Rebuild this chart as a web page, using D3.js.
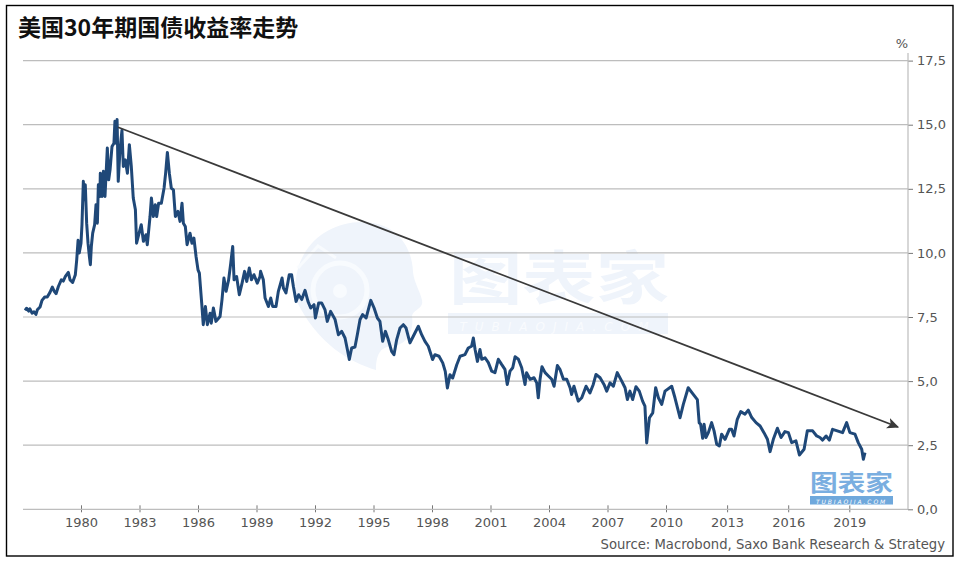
<!DOCTYPE html>
<html>
<head>
<meta charset="utf-8">
<script src="https://cdn.jsdelivr.net/npm/d3@7"></script>
<style>
  html, body { margin: 0; background: #fff; }
  svg { display: block; }
  text { font-family: "DejaVu Sans", sans-serif; }
  .cjk { font-family: "Noto Sans CJK SC", sans-serif; font-weight: 700; }
  .axis text { fill: #555; font-size: 13px; }
</style>
</head>
<body>
<svg id="chart" width="958" height="564"></svg>
<script>
// values
const yearTicks = [1980, 1983, 1986, 1989, 1992, 1995, 1998, 2001, 2004, 2007, 2010, 2013, 2016, 2019];
const yieldTicks = [0, 2.5, 5, 7.5, 10, 12.5, 15, 17.5];

const years = [
  1977.13,1977.21,1977.32,1977.38,1977.49,1977.59,1977.69,1977.76,1977.90,1978.00,1978.14,1978.27,1978.41,1978.53,1978.63,1978.72,1978.84,1978.99,1979.09,1979.20,
  1979.35,1979.44,1979.57,1979.71,1979.78,1979.85,1979.91,1980.00,1980.05,1980.12,1980.17,1980.22,1980.29,1980.36,1980.43,1980.48,1980.53,1980.60,1980.70,1980.77,
  1980.84,1980.89,1980.97,1980.99,1981.08,1981.15,1981.23,1981.35,1981.42,1981.49,1981.59,1981.69,1981.74,1981.79,1981.85,1981.91,1982.00,1982.10,1982.17,1982.27,
  1982.38,1982.48,1982.58,1982.68,1982.79,1982.85,1982.96,1983.09,1983.20,1983.33,1983.40,1983.54,1983.61,1983.71,1983.81,1983.88,1983.98,1984.12,1984.26,1984.34,
  1984.43,1984.53,1984.63,1984.74,1984.84,1984.97,1985.08,1985.18,1985.25,1985.35,1985.44,1985.59,1985.69,1985.79,1985.90,1986.00,1986.07,1986.19,1986.27,1986.38,
  1986.48,1986.62,1986.68,1986.79,1986.92,1987.13,1987.23,1987.33,1987.44,1987.57,1987.68,1987.78,1987.85,1987.98,1988.12,1988.26,1988.39,1988.50,1988.63,1988.74,
  1988.87,1989.04,1989.18,1989.21,1989.35,1989.44,1989.61,1989.73,1989.83,1990.00,1990.12,1990.31,1990.38,1990.51,1990.68,1990.80,1990.89,1991.03,1991.16,1991.32,
  1991.49,1991.64,1991.78,1991.95,1992.02,1992.19,1992.34,1992.51,1992.63,1992.80,1993.03,1993.20,1993.37,1993.54,1993.66,1993.76,1993.88,1994.05,1994.17,1994.31,
  1994.44,1994.62,1994.86,1995.03,1995.20,1995.33,1995.47,1995.61,1995.76,1995.93,1996.05,1996.19,1996.36,1996.53,1996.67,1996.87,1997.04,1997.30,1997.47,1997.64,
  1997.81,1998.03,1998.15,1998.36,1998.55,1998.68,1998.79,1998.92,1999.06,1999.27,1999.44,1999.69,1999.86,2000.03,2000.12,2000.21,2000.33,2000.46,2000.55,2000.72,
  2000.89,2001.06,2001.23,2001.40,2001.57,2001.74,2001.86,2002.00,2002.14,2002.26,2002.43,2002.60,2002.77,2002.85,2003.03,2003.23,2003.37,2003.45,2003.54,2003.64,
  2003.80,2003.97,2004.14,2004.26,2004.43,2004.56,2004.74,2004.91,2005.08,2005.16,2005.28,2005.50,2005.68,2005.90,2006.10,2006.27,2006.41,2006.62,2006.82,2006.96,
  2007.13,2007.30,2007.50,2007.73,2007.90,2008.02,2008.15,2008.29,2008.46,2008.63,2008.80,2008.92,2009.01,2009.15,2009.32,2009.47,2009.61,2009.78,2009.95,2010.28,
  2010.44,2010.69,2010.85,2011.09,2011.34,2011.54,2011.63,2011.70,2011.80,2011.87,2011.96,2012.08,2012.24,2012.36,2012.49,2012.62,2012.73,2012.90,2013.11,2013.22,
  2013.34,2013.50,2013.67,2013.88,2014.04,2014.21,2014.42,2014.62,2014.81,2014.98,2015.11,2015.27,2015.47,2015.65,2015.84,2016.01,2016.17,2016.38,2016.55,2016.78,
  2016.94,2017.20,2017.40,2017.56,2017.69,2017.86,2018.02,2018.18,2018.41,2018.67,2018.87,2019.03,2019.28,2019.44,2019.61,2019.69,2019.77
];
const yields = [
  7.76,7.84,7.73,7.82,7.65,7.70,7.60,7.78,7.89,8.15,8.28,8.28,8.46,8.67,8.50,8.41,8.69,8.95,8.90,9.08,
  9.24,8.95,8.85,9.15,9.73,10.49,10.00,10.38,11.10,12.79,12.07,12.66,11.16,10.38,9.86,9.54,10.25,10.77,11.10,11.88,
  11.16,12.66,12.20,13.11,12.20,13.18,12.20,14.09,12.85,13.24,14.15,14.28,15.13,14.28,15.20,12.79,14.02,14.78,13.37,13.63,
  13.11,14.22,13.37,12.14,11.68,10.38,10.71,11.10,10.45,10.71,10.32,11.42,12.14,11.42,11.88,11.42,11.94,11.94,12.53,13.11,
  13.92,13.11,12.53,12.46,11.42,11.62,11.23,11.94,11.16,11.03,10.32,10.77,10.38,10.58,9.86,9.34,9.21,8.04,7.20,7.91,
  7.20,7.65,7.26,7.85,7.33,7.52,8.17,9.02,8.50,8.95,9.60,10.25,8.95,9.08,8.37,8.82,9.28,8.89,9.41,8.95,
  9.15,8.82,9.08,9.28,8.95,8.24,7.91,8.24,7.91,7.91,8.50,9.02,8.63,8.44,9.15,9.15,8.70,8.11,8.37,8.18,
  8.54,8.11,7.85,7.98,7.46,8.05,8.05,7.79,7.33,7.72,7.40,6.81,6.94,6.68,6.23,5.84,6.29,6.33,6.81,7.40,
  7.59,7.46,8.15,7.85,7.46,7.33,6.55,6.94,6.61,6.16,6.03,6.62,7.07,7.20,7.07,6.49,6.75,7.14,6.81,6.55,
  6.36,5.84,6.03,5.97,5.71,5.38,4.73,5.25,5.12,5.64,5.97,6.03,6.29,6.36,6.68,6.23,5.77,6.23,5.85,5.91,
  5.72,5.39,5.33,5.85,5.65,5.46,4.87,5.39,5.52,5.95,5.85,5.52,4.87,5.33,5.07,5.13,4.93,4.35,5.07,5.56,
  5.33,5.20,5.07,4.80,5.61,5.46,5.07,5.07,4.74,4.48,4.80,4.22,4.35,4.80,4.54,4.87,5.26,5.13,4.87,4.61,
  4.93,4.80,5.33,5.00,4.74,4.28,4.61,4.28,4.78,4.61,4.22,4.02,2.59,3.57,3.76,4.74,4.35,4.09,4.61,4.80,
  4.35,3.57,4.09,4.74,4.48,4.28,3.37,3.32,2.77,3.32,2.80,2.99,3.38,3.06,2.54,2.47,2.93,2.73,3.12,3.12,
  2.86,3.51,3.81,3.71,3.87,3.58,3.38,3.25,2.99,2.73,2.25,2.73,3.16,2.80,3.03,2.99,2.60,2.67,2.12,2.34,
  3.06,3.06,2.86,2.80,2.70,2.86,2.70,3.12,3.06,2.99,3.38,2.99,2.93,2.60,2.34,1.95,2.21
];
const trendYears = [1981.9, 2021.39];
const trendYields = [14.9, 3.21];

const titleText = "美国30年期国债收益率走势";
const sourceText = "Source: Macrobond, Saxo Bank Research & Strategy";

const svg = d3.select("#chart");

// the year axis of the original is not quite even, it runs wider after 2010
const x = d3.scaleLinear().domain([1980, 2010, 2019]).range([81, 666, 849.3]);
const y = d3.scaleLinear().domain([0, 17.5]).range([509.3, 60.6]);
const plotLeft = 23, plotRight = 908;

// frame
svg.append("rect").attr("x", 6.5).attr("y", 5.5).attr("width", 946.5).attr("height", 550.5)
  .attr("fill", "#fff").attr("stroke", "#000").attr("stroke-width", 1.4);

// watermark sits under the grid
const wm = svg.append("g");
wm.append("path")
  .attr("d", "M296,300 C290,250 325,222 362,222 C395,222 412,245 413,272 C414,284 424,298 422,304 C420,310 413,310 412,316 C414,330 408,345 392,346 C382,347 376,352 376,370 C350,362 318,345 296,300 Z")
  .attr("fill", "#eff4fb");
wm.append("circle").attr("cx", 340).attr("cy", 290).attr("r", 27).attr("fill", "none").attr("stroke", "#f8fbfe").attr("stroke-width", 5);
wm.append("circle").attr("cx", 340).attr("cy", 291).attr("r", 7).attr("fill", "#f8fbfe");
wm.append("path").attr("d", "M298,268 L318,246 L336,258").attr("fill", "none").attr("stroke", "#f8fbfe").attr("stroke-width", 3);
wm.append("text").attr("class", "cjk").attr("x", 449).attr("y", 299)
  .attr("font-size", 58).attr("textLength", 220).attr("lengthAdjust", "spacingAndGlyphs")
  .attr("fill", "#eff4fb").text("图表家");
wm.append("rect").attr("x", 448).attr("y", 313).attr("width", 220).attr("height", 21).attr("fill", "#eff4fb");
wm.append("text").attr("x", 558).attr("y", 331).attr("text-anchor", "middle").attr("font-size", 12)
  .attr("font-style", "italic").attr("letter-spacing", 8).attr("fill", "#f9fbfe").text("TUBIAOJIA.COM");

// grid
svg.append("g").selectAll("line").data(yieldTicks.filter(d => d > 0)).join("line")
  .attr("x1", plotLeft).attr("x2", plotRight)
  .attr("y1", d => y(d)).attr("y2", d => y(d))
  .attr("stroke", "#bdbdbd").attr("stroke-width", 1.2);

// axes
const xAxisG = svg.append("g").attr("class", "axis")
  .attr("transform", `translate(0,${y(0)})`)
  .call(d3.axisBottom(x).tickValues(yearTicks).tickFormat(d3.format("d")).tickSize(3).tickSizeOuter(0).tickPadding(5));
xAxisG.select(".domain").remove();
xAxisG.selectAll(".tick line").attr("y1", -4).attr("stroke", "#777");
xAxisG.append("line").attr("x1", plotLeft).attr("x2", plotRight).attr("stroke", "#bdbdbd").attr("stroke-width", 1.2);

const yAxisG = svg.append("g").attr("class", "axis")
  .attr("transform", `translate(${plotRight},0)`)
  .call(d3.axisRight(y).tickValues(yieldTicks).tickFormat(d => d3.format(".1f")(d).replace(".", ",")).tickSize(5).tickSizeOuter(0).tickPadding(4));
yAxisG.select(".domain").remove();
yAxisG.selectAll(".tick line").attr("stroke", "#777");
yAxisG.append("line").attr("y1", 53).attr("y2", y(0)).attr("stroke", "#bdbdbd").attr("stroke-width", 1.2);
svg.append("text").attr("x", 902).attr("y", 48).attr("text-anchor", "middle")
  .attr("font-size", 13).attr("fill", "#555").text("%");

// yield line
const line = d3.line().x((d, i) => x(years[i])).y(d => y(d));
svg.append("path").datum(yields)
  .attr("d", line)
  .attr("fill", "none").attr("stroke", "#1f4878").attr("stroke-width", 3).attr("stroke-linejoin", "round");

// trend arrow
const defs = svg.append("defs");
defs.append("marker").attr("id", "arrow").attr("viewBox", "0 0 10 10").attr("refX", 9).attr("refY", 5)
  .attr("markerWidth", 12).attr("markerHeight", 12).attr("markerUnits", "userSpaceOnUse").attr("orient", "auto")
  .append("path").attr("d", "M0,0.5 L10,5 L0,9.5 L2.5,5 Z").attr("fill", "#3a3a3a");
svg.append("line")
  .attr("x1", x(trendYears[0])).attr("y1", y(trendYields[0]))
  .attr("x2", x(trendYears[1])).attr("y2", y(trendYields[1]))
  .attr("stroke", "#3a3a3a").attr("stroke-width", 1.8).attr("marker-end", "url(#arrow)");

// small logo
const logo = svg.append("g");
logo.append("text").attr("class", "cjk").attr("x", 810).attr("y", 491)
  .attr("font-size", 23).attr("textLength", 83).attr("lengthAdjust", "spacingAndGlyphs")
  .attr("fill", "#7aaee0").text("图表家");
logo.append("rect").attr("x", 810).attr("y", 496).attr("width", 83).attr("height", 8.5).attr("fill", "#6fa8dc");
logo.append("text").attr("x", 851.5).attr("y", 503.6).attr("text-anchor", "middle").attr("font-size", 6)
  .attr("font-style", "italic").attr("letter-spacing", 1.9).attr("fill", "#fff").text("TUBIAOJIA.COM");

// title and source
svg.append("text").attr("class", "cjk").attr("x", 18).attr("y", 35.5)
  .attr("font-size", 23).attr("fill", "#111").text(titleText);
svg.append("text").attr("x", 945).attr("y", 549).attr("text-anchor", "end")
  .attr("font-size", 13.2).attr("fill", "#555").text(sourceText);
</script>
</body>
</html>
